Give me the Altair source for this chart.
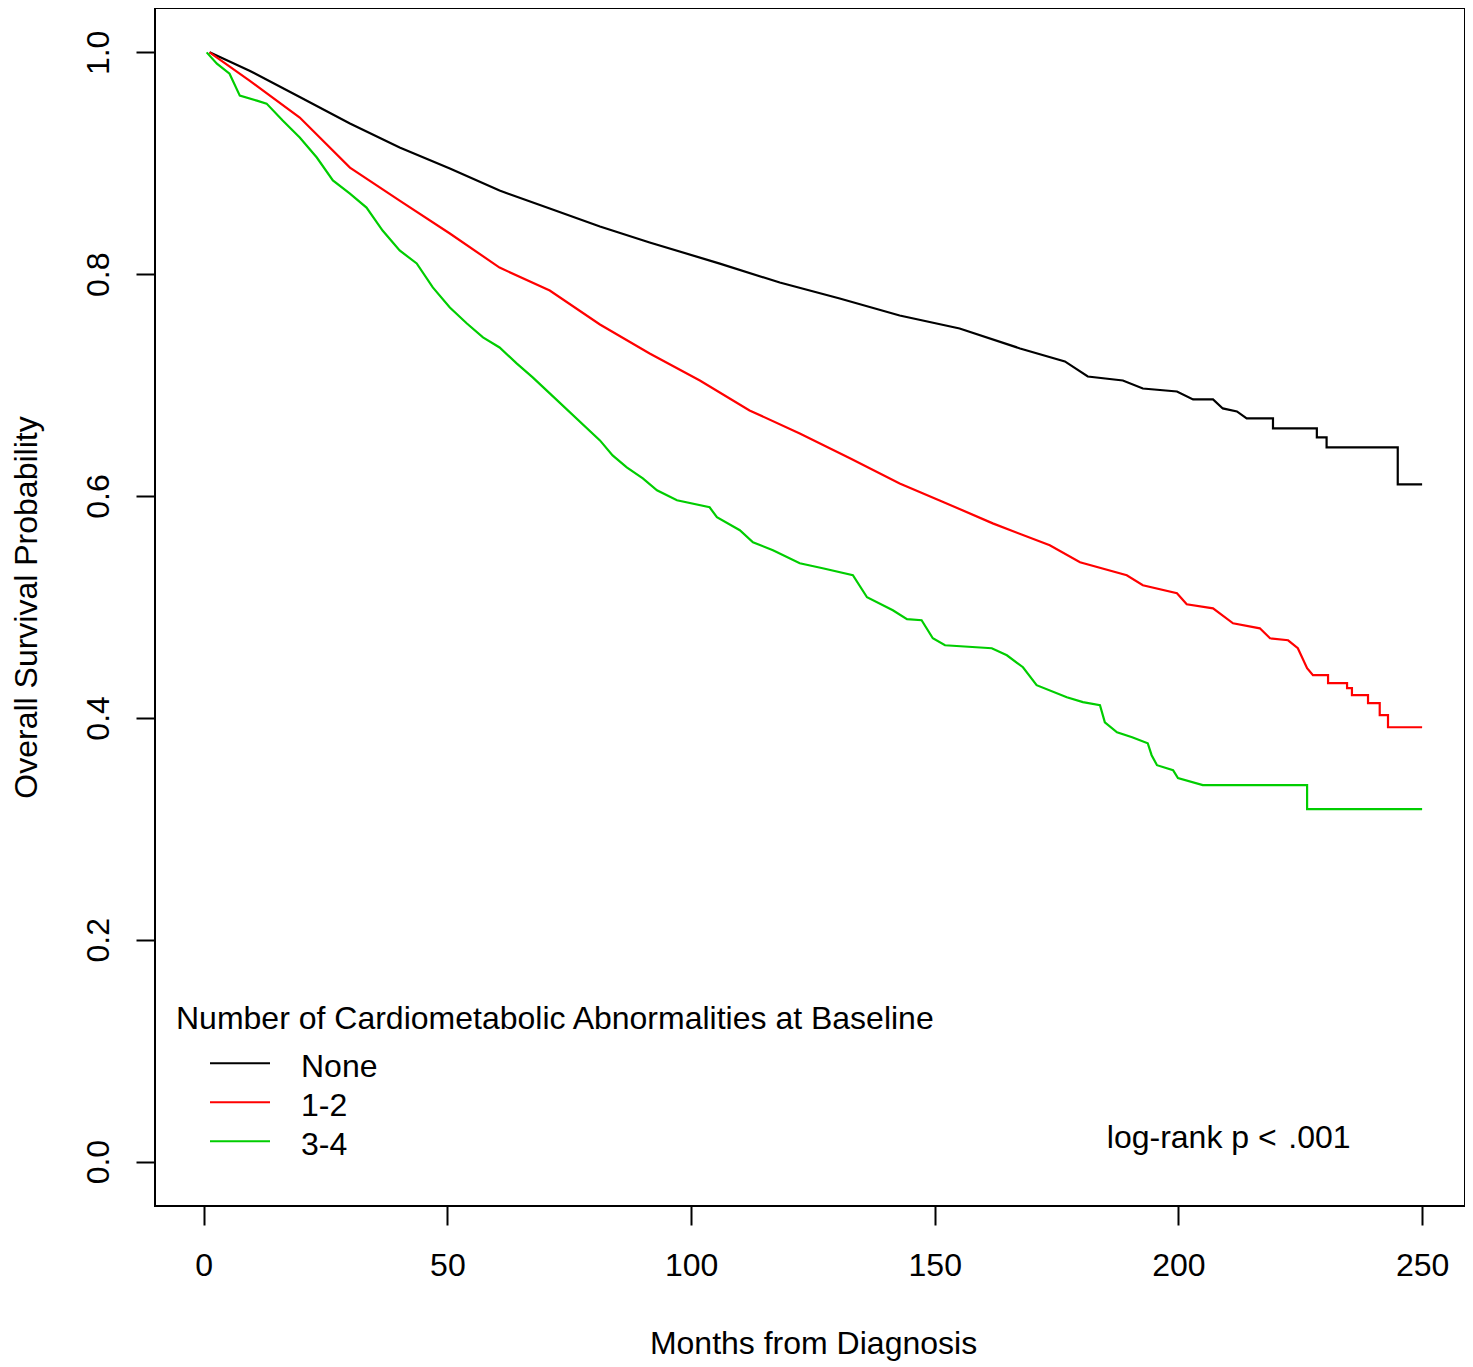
import altair as alt
import pandas as pd

# ---- data ----
groups = ["None", "1-2", "3-4"]
colors = ["#000000", "#FF0000", "#00CD00"]

none_t = [1.2, 9.4, 19.7, 30.0, 40.2, 50.5, 60.7, 71.0, 81.3, 91.5, 105.9, 118.2, 130.5, 142.8, 155.1,
          167.5, 176.7, 181.4, 188.6, 192.7, 199.7, 203.0, 207.1, 209.1, 212.0, 214.0, 219.4, 219.4,
          228.4, 228.4, 230.4, 230.4, 245.0, 245.0, 250.0]
none_s = [1.000, 0.9835, 0.9597, 0.9358, 0.9142, 0.8953, 0.8754, 0.8592, 0.8430, 0.8286, 0.8096, 0.7925,
          0.7781, 0.7628, 0.7511, 0.7331, 0.7214, 0.7078, 0.7042, 0.6970, 0.6943, 0.6871, 0.6871, 0.6790,
          0.6763, 0.6700, 0.6700, 0.6610, 0.6610, 0.6529, 0.6529, 0.6439, 0.6439, 0.6106, 0.6106]

red_t = [1.2, 9.4, 19.7, 30.0, 40.2, 50.5, 60.7, 71.0, 81.3, 91.5, 101.8, 112.0, 122.3, 132.6, 142.8,
         151.0, 161.9, 173.6, 179.8, 189.4, 192.7, 199.7, 201.7, 207.1, 211.2, 216.7, 218.8, 222.5, 224.5,
         226.4, 227.6, 230.7, 230.7, 234.6, 234.6, 235.6, 235.6, 238.9, 238.9, 241.3, 241.3, 243.0, 243.0,
         250.0]
red_s = [1.000, 0.9745, 0.9412, 0.8961, 0.8664, 0.8367, 0.8060, 0.7853, 0.7547, 0.7286, 0.7042, 0.6772,
         0.6565, 0.6340, 0.6114, 0.5961, 0.5754, 0.5556, 0.5403, 0.5286, 0.5196, 0.5124, 0.5025, 0.4988,
         0.4853, 0.4808, 0.4718, 0.4700, 0.4628, 0.4448, 0.4385, 0.4385, 0.4313, 0.4313, 0.4268, 0.4268,
         0.4205, 0.4205, 0.4133, 0.4133, 0.4025, 0.4025, 0.3916, 0.3916]

green_t = [0.6, 2.7, 5.3, 7.4, 10.9, 12.9, 16.2, 19.7, 23.2, 26.5, 30.0, 33.4, 36.7, 40.2, 43.7, 47.0,
           50.5, 54.0, 57.3, 60.7, 64.2, 67.5, 71.0, 81.3, 83.9, 86.8, 90.1, 93.0, 97.1, 103.8, 105.3,
           110.0, 112.7, 116.8, 122.3, 127.0, 133.2, 136.1, 141.4, 144.3, 147.3, 149.6, 152.1, 161.7,
           164.8, 168.1, 170.9, 177.1, 180.4, 183.9, 184.9, 187.4, 190.5, 193.7, 194.5, 195.6, 198.9,
           199.9, 205.0, 226.4, 226.4, 250.0]
green_s = [1.000, 0.9898, 0.9808, 0.9610, 0.9565, 0.9538, 0.9385, 0.9232, 0.9052, 0.8845, 0.8727,
           0.8601, 0.8394, 0.8214, 0.8097, 0.7881, 0.7700, 0.7556, 0.7430, 0.7340, 0.7196, 0.7070,
           0.6926, 0.6502, 0.6367, 0.6259, 0.6160, 0.6052, 0.5962, 0.5899, 0.5809, 0.5692, 0.5584,
           0.5511, 0.5394, 0.5349, 0.5286, 0.5088, 0.4971, 0.4890, 0.4881, 0.4718, 0.4655, 0.4628,
           0.4565, 0.4457, 0.4295, 0.4187, 0.4142, 0.4114, 0.3961, 0.3871, 0.3826, 0.3772, 0.3664,
           0.3574, 0.3529, 0.3457, 0.3394, 0.3394, 0.3177, 0.3177]

x_ticks = [0, 50, 100, 150, 200, 250]
y_ticks = [0.0, 0.2, 0.4, 0.6, 0.8, 1.0]
note_text = ["log-rank p <\u200a .001"]
note_x = [185.3]
note_y = [0.012]

FONT = "Liberation Sans, Arial, Helvetica, sans-serif"

rows = []
for g, ts, ss in [("None", none_t, none_s), ("1-2", red_t, red_s), ("3-4", green_t, green_s)]:
    for i, (t, s) in enumerate(zip(ts, ss)):
        rows.append({"group": g, "month": t, "surv": s, "idx": i})
df = pd.DataFrame(rows)

xscale = alt.Scale(domain=[-10, 258.8], nice=False, zero=False)
yscale = alt.Scale(domain=[-0.04, 1.04], nice=False, zero=False)

lines = alt.Chart(df).mark_line(strokeWidth=2.2, clip=True).encode(
    x=alt.X("month:Q", scale=xscale,
            axis=alt.Axis(values=x_ticks, title="Months from Diagnosis", grid=False, domain=False,
                          tickSize=19, tickWidth=2, tickColor="black",
                          labelFont=FONT, labelFontSize=32, labelColor="black", labelPadding=25,
                          labelFlush=False, labelOverlap=False,
                          titleFont=FONT, titleFontSize=32, titleFontWeight="normal", titleColor="black",
                          titleBaseline="alphabetic", titleX=658, titleY=147)),
    y=alt.Y("surv:Q", scale=yscale,
            axis=alt.Axis(values=y_ticks, format=".1f", title="Overall Survival Probability", grid=False,
                          domain=False, tickSize=19, tickWidth=2, tickColor="black",
                          labelFont=FONT, labelFontSize=32, labelColor="black", labelPadding=28,
                          labelAngle=-90, labelAlign="center", labelBaseline="alphabetic",
                          labelFlush=False, labelOverlap=False,
                          titleFont=FONT, titleFontSize=32, titleFontWeight="normal", titleColor="black",
                          titleAngle=-90, titleAlign="center", titleBaseline="alphabetic",
                          titleX=-119, titleY=599)),
    color=alt.Color("group:N", scale=alt.Scale(domain=groups, range=colors),
                    legend=alt.Legend(title="Number of Cardiometabolic Abnormalities at Baseline",
                                      orient="none", legendX=21, legendY=996, padding=0,
                                      titleFont=FONT, titleFontSize=32, titleFontWeight="normal",
                                      titleColor="black", titleLimit=2000, titlePadding=15,
                                      labelFont=FONT, labelFontSize=32, labelColor="black",
                                      symbolType="M-3,-0.37H3", symbolSize=400, symbolStrokeWidth=2,
                                      symbolOffset=48, labelOffset=45, rowPadding=7)),
    order=alt.Order("idx:Q"),
)

note = alt.Chart(pd.DataFrame({"x": note_x, "y": note_y, "t": note_text})).mark_text(
    align="left", baseline="alphabetic", font=FONT, fontSize=32, color="black"
).encode(x="x:Q", y="y:Q", text="t:N")

chart = alt.layer(lines, note).properties(
    width=1310, height=1198,
    padding={"left": 147, "top": 0, "right": 0, "bottom": 158},
    autosize=alt.AutoSizeParams(type="none"),
    background="white",
).configure_view(stroke="black", strokeWidth=2)

chart.save("out.html", embed_options={"renderer": "svg", "actions": False})
